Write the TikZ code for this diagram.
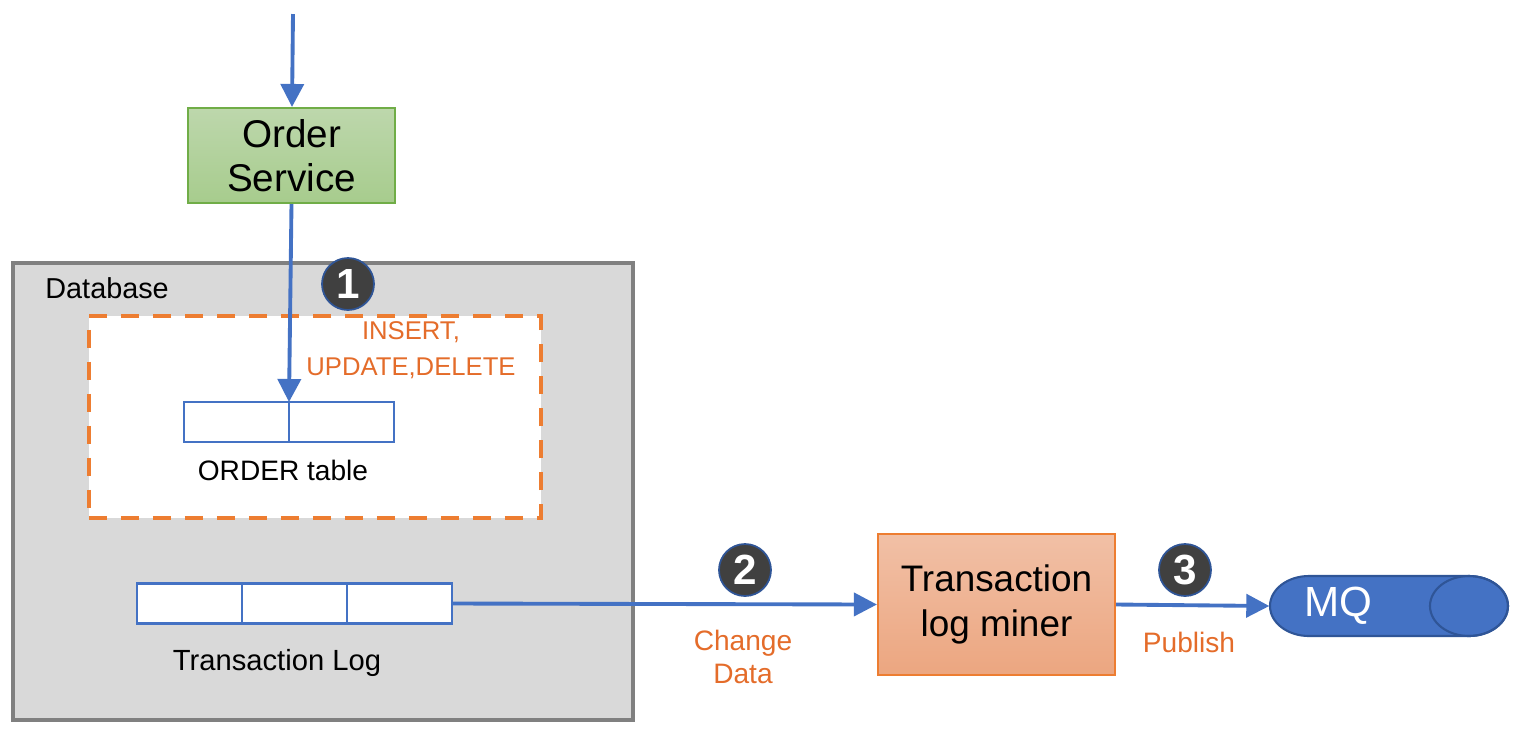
\documentclass[tikz,border=0pt]{standalone}
\usepackage{fontspec}
\setmainfont{Liberation Sans}
\usepackage{tikz}
\usetikzlibrary{positioning,arrows.meta}

\definecolor{arrblue}{HTML}{4472C4}
\definecolor{darkblue}{HTML}{2F5597}
\definecolor{orng}{HTML}{ED7D31}
\definecolor{orngtxt}{HTML}{E46C2A}
\definecolor{dbgray}{HTML}{D9D9D9}
\definecolor{dbedge}{HTML}{808080}
\definecolor{badgefill}{HTML}{404040}
\definecolor{grnedge}{HTML}{70AD47}

\begin{document}
\begin{tikzpicture}[
svc/.style={
	draw=#1,
	line width=0.6pt,
	align=center,
	inner sep=2pt
},
cell/.style={
	draw=arrblue,
	fill=white,
	line width=0.6pt,
	minimum width=1.05cm,
	minimum height=0.4cm,
	inner sep=0pt,
	outer sep=0pt
},
badge/.style={
	circle,
	fill=badgefill,
	draw=darkblue,
	line width=0.5pt,
	minimum size=0.52cm,
	inner sep=0pt,
	text=white,
	font=\fontsize{12}{12}\selectfont\bfseries
},
note/.style={
	text=orngtxt,
	align=center,
	font=\fontsize{8}{9.5}\selectfont
},
plain/.style={
	font=\fontsize{8}{9.5}\selectfont
},
flow/.style={
	draw=arrblue,
	line width=1.1pt,
	-{Triangle[length=2.3mm,width=2.3mm]}
}
]
\useasboundingbox (0,0) rectangle (15.2,-7.32);

% database area
\node[draw=dbedge, fill=dbgray, line width=1.1pt, minimum width=6.2cm,
	minimum height=4.57cm] (db) at (3.23,-4.915) {};
\node[plain, anchor=west, font=\fontsize{8.2}{9.5}\selectfont] (dblabel) at (0.33,-2.88) {Database};

\node[draw=orng, fill=white, line width=1.1pt, dash pattern=on 0.18cm off 0.14cm,
	minimum width=4.52cm, minimum height=2.02cm] (dml) at (3.15,-4.17) {};
\node[note, font=\fontsize{7.3}{10.2}\selectfont] (dmltext) at (4.11,-3.50) {INSERT,\\UPDATE,DELETE};

% tables
\node[cell] (ord1) at (2.365,-4.22) {};
\node[cell, right=0pt of ord1] (ord2) {};
\node[plain] (ordlabel) at (2.83,-4.70) {ORDER table};

\node[cell] (log1) at (1.895,-6.035) {};
\node[cell, right=0pt of log1] (log2) {};
\node[cell, right=0pt of log2] (log3) {};
\node[plain, font=\fontsize{8.3}{9.5}\selectfont] (loglabel) at (2.77,-6.63) {Transaction Log};

% services
\node[svc=grnedge, top color={rgb,255:red,189;green,215;blue,172},
	bottom color={rgb,255:red,167;green,204;blue,141}, minimum width=2.07cm,
	minimum height=0.95cm, font=\fontsize{11}{12.7}\selectfont] (os) at (2.915,-1.555) {Order\\Service};
\coordinate (top) at (2.93,-0.14);

\node[svc=orng, top color={rgb,255:red,241;green,192;blue,166},
	bottom color={rgb,255:red,236;green,166;blue,128}, minimum width=2.37cm,
	minimum height=1.41cm, font=\fontsize{10.5}{12.7}\selectfont] (miner) at (9.965,-6.045) {Transaction\\log miner};

% message queue drawn as a lying cylinder
\node[minimum width=2.38cm, minimum height=0.6cm, inner sep=0pt] (mq) at (13.89,-6.06) {};
\draw[draw=darkblue, fill=arrblue, line width=0.6pt]
	(13.09,-5.76) -- (14.69,-5.76)
	arc[start angle=90, end angle=-90, x radius=0.39, y radius=0.30]
	-- (13.09,-6.36)
	arc[start angle=270, end angle=90, x radius=0.39, y radius=0.30] -- cycle;
\draw[draw=darkblue, line width=0.6pt] (14.69,-6.06) ellipse[x radius=0.39, y radius=0.30];
\node[text=white, font=\fontsize{12}{12}\selectfont] (mqlabel) at (13.38,-6.06) {MQ};

% steps
\node[badge] (b1) at (3.48,-2.84) {1};
\node[badge] (b2) at (7.45,-5.70) {2};
\node[badge] (b3) at (11.85,-5.70) {3};

\node[note] (chg) at (7.43,-6.57) {Change\\Data};
\node[note] (pub) at (11.89,-6.42) {Publish};

\draw[flow] (top) -- (os);
\draw[flow] (os.south) -- (ord1.north east);
\draw[flow] (log3.east) -- (miner.west);
\draw[flow] (miner.east) -- (mq.west);

\end{tikzpicture}
\end{document}
